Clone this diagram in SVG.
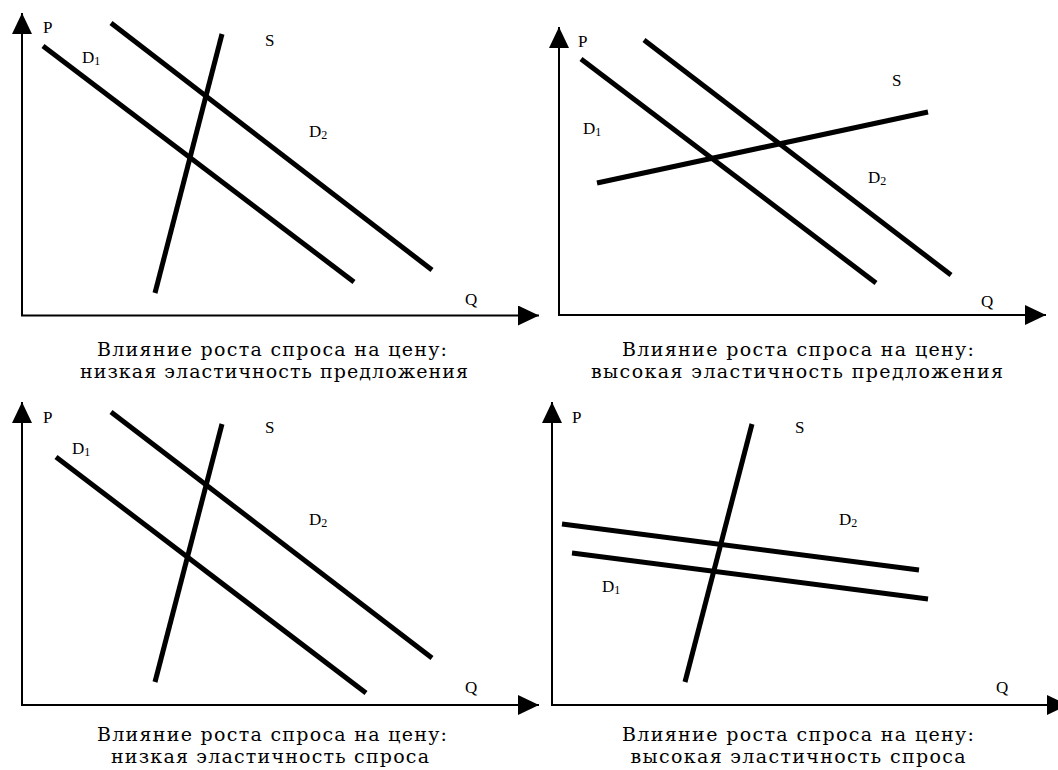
<svg xmlns="http://www.w3.org/2000/svg" width="1058" height="770" viewBox="0 0 1058 770">
<style>
.ax{stroke:#000;stroke-width:2;fill:none}
.cv{stroke:#000;stroke-width:5;fill:none}
.lb{font-family:"Liberation Serif","Times New Roman",serif;font-size:17px;fill:#000}
.sb{font-size:12px}
.cap{font-family:"DejaVu Serif",serif;font-size:19px;fill:#000;text-anchor:middle}
</style>
<defs>
<marker id="arr" markerUnits="userSpaceOnUse" markerWidth="21" markerHeight="20" refX="21" refY="10" orient="auto" viewBox="0 0 21 20">
<path d="M0,0 L21,10 L0,20 Z" fill="#000"/>
</marker>
</defs>
<rect width="1058" height="770" fill="#fff"/>

<g id="panel1">
<g id="p1-axes"><line class="ax" x1="22" y1="316" x2="22" y2="13" marker-end="url(#arr)"/><line class="ax" x1="21" y1="315.5" x2="539" y2="315.5" marker-end="url(#arr)"/></g>
<g id="p1-curves"><line class="cv" x1="43" y1="46" x2="354" y2="282"/><line class="cv" x1="111" y1="23" x2="432" y2="270"/><line class="cv" x1="222" y1="34" x2="155" y2="293"/></g>
<g id="p1-labels">
<text class="lb" x="43" y="33">P</text>
<text class="lb" x="82" y="63">D<tspan class="sb" dy="2">1</tspan></text>
<text class="lb" x="265" y="46">S</text>
<text class="lb" x="309" y="137">D<tspan class="sb" dy="2">2</tspan></text>
<text class="lb" x="465" y="305">Q</text>
</g>
<text class="cap" x="272" y="356" textLength="350" lengthAdjust="spacing">Влияние роста спроса на цену:</text>
<text class="cap" x="274" y="378" textLength="388" lengthAdjust="spacing">низкая эластичность предложения</text>
</g>

<g id="panel2">
<g id="p2-axes"><line class="ax" x1="559" y1="316" x2="559" y2="27" marker-end="url(#arr)"/><line class="ax" x1="558" y1="315" x2="1046" y2="315" marker-end="url(#arr)"/></g>
<g id="p2-curves"><line class="cv" x1="581" y1="59" x2="876" y2="283"/><line class="cv" x1="644" y1="40" x2="951" y2="275"/><line class="cv" x1="597" y1="183" x2="928" y2="112"/></g>
<g id="p2-labels">
<text class="lb" x="578" y="47">P</text>
<text class="lb" x="892" y="86">S</text>
<text class="lb" x="583" y="134">D<tspan class="sb" dy="2">1</tspan></text>
<text class="lb" x="868" y="183">D<tspan class="sb" dy="2">2</tspan></text>
<text class="lb" x="981" y="307">Q</text>
</g>
<text class="cap" x="798" y="356" textLength="352" lengthAdjust="spacing">Влияние роста спроса на цену:</text>
<text class="cap" x="797" y="378" textLength="412" lengthAdjust="spacing">высокая эластичность предложения</text>
</g>

<g id="panel3">
<g id="p3-axes"><line class="ax" x1="22" y1="706" x2="22" y2="402" marker-end="url(#arr)"/><line class="ax" x1="21" y1="705" x2="539" y2="705" marker-end="url(#arr)"/></g>
<g id="p3-curves"><line class="cv" x1="56" y1="457" x2="366" y2="693"/><line class="cv" x1="111" y1="412" x2="432" y2="658"/><line class="cv" x1="222" y1="424" x2="155" y2="682"/></g>
<g id="p3-labels">
<text class="lb" x="43" y="423">P</text>
<text class="lb" x="72" y="454">D<tspan class="sb" dy="2">1</tspan></text>
<text class="lb" x="265" y="433">S</text>
<text class="lb" x="309" y="525">D<tspan class="sb" dy="2">2</tspan></text>
<text class="lb" x="465" y="693">Q</text>
</g>
<text class="cap" x="272" y="741" textLength="350" lengthAdjust="spacing">Влияние роста спроса на цену:</text>
<text class="cap" x="270" y="763" textLength="318" lengthAdjust="spacing">низкая эластичность спроса</text>
</g>

<g id="panel4">
<g id="p4-axes"><line class="ax" x1="552" y1="706" x2="552" y2="402" marker-end="url(#arr)"/><line class="ax" x1="551" y1="705" x2="1068" y2="705" marker-end="url(#arr)"/></g>
<g id="p4-curves"><line class="cv" x1="752" y1="424" x2="685" y2="682"/><line class="cv" x1="562" y1="524" x2="919" y2="570"/><line class="cv" x1="572" y1="553" x2="928" y2="599"/></g>
<g id="p4-labels">
<text class="lb" x="572" y="423">P</text>
<text class="lb" x="795" y="433">S</text>
<text class="lb" x="839" y="525">D<tspan class="sb" dy="2">2</tspan></text>
<text class="lb" x="602" y="592">D<tspan class="sb" dy="2">1</tspan></text>
<text class="lb" x="996" y="693">Q</text>
</g>
<text class="cap" x="798" y="741" textLength="352" lengthAdjust="spacing">Влияние роста спроса на цену:</text>
<text class="cap" x="798" y="763" textLength="335" lengthAdjust="spacing">высокая эластичность спроса</text>
</g>
</svg>
